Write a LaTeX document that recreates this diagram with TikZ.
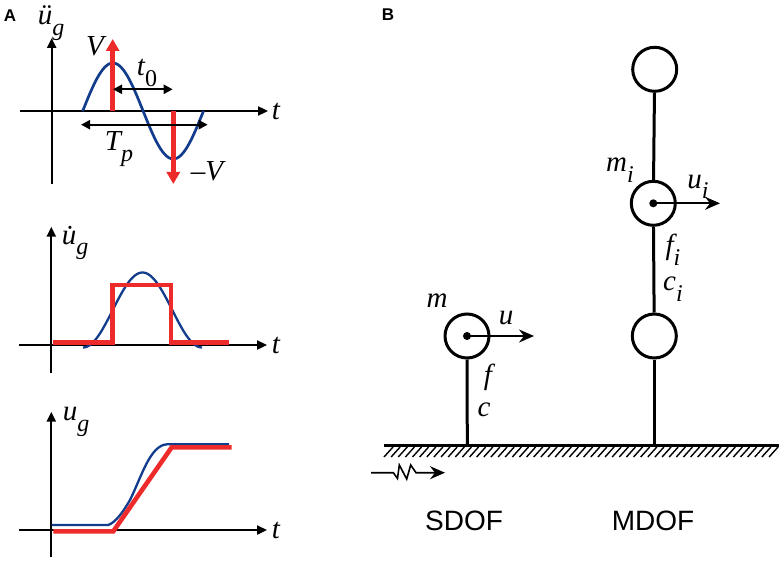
\documentclass[tikz,border=0pt]{standalone}
\usepackage{fontspec}
\setmainfont{Liberation Serif}
\setsansfont{Liberation Sans}
\usetikzlibrary{arrows.meta}
\definecolor{sineblue}{HTML}{123C8C}
\definecolor{pulsered}{HTML}{EE2B2B}
\newcommand{\lowidx}[1]{\raisebox{-0.36em}{\fontsize{24}{26}\selectfont #1}}
\tikzset{
	axis/.style={line width=2.3pt, -{Triangle[length=10pt,width=9pt]}},
	span/.style={line width=2.2pt, {Triangle[length=9pt,width=9pt]}-{Triangle[length=9pt,width=9pt]}},
	pulse/.style={line width=4.6pt, pulsered, line join=miter},
	pulsearrow/.style={line width=4.6pt, pulsered, -{Triangle[length=12pt,width=13pt]}},
	wave/.style={line width=2.3pt, sineblue},
	sym/.style={font=\fontsize{29}{31}\selectfont\itshape, inner sep=0pt},
	panel/.style={font=\fontsize{17}{19}\selectfont\sffamily\bfseries, inner sep=0pt},
	dof/.style={font=\fontsize{28}{30}\selectfont\sffamily, inner sep=0pt},
	mass/.style={circle, draw, line width=3pt, minimum size=44pt, inner sep=0pt},
	rod/.style={line width=3pt},
	pin/.style={circle, fill, minimum size=8pt, inner sep=0pt},
	motion/.style={line width=1.6pt, -{Stealth[length=15pt,width=13pt,inset=5pt]}}
}

\begin{document}
\begin{tikzpicture}[x=1pt,y=-1pt]
	\useasboundingbox (0,0) rectangle (783,561);
	%%%%% PANEL A, ACCELERATION %%%%%
	\node[panel] (labA) at (10,16) {A};
	\draw[axis] (51.7,184) -- (51.7,38);
	\draw[axis] (20,111) -- (268,111);
	\draw[wave, line width=2.7pt] plot[domain=82.7:203.5, samples=60] (\x, {111-48*sin(2.98*(\x-82.7))});
	\draw[pulsearrow] (112.7,111) -- (112.7,39);
	\draw[pulsearrow] (173.3,111) -- (173.3,184);
	\draw[span] (113,89.3) -- (172.7,89.3);
	\draw[span] (81,124.7) -- (207.7,124.7);
	\node[sym] (accel) at (51,23) {ü\lowidx{g}};
	\node[sym] (peak) at (95,46) {V};
	\node[sym] (peakneg) at (207,171) {--V};
	\node[sym] (shift) at (147,73) {t\lowidx{\upshape 0}};
	\node[sym] (period) at (119,149) {T\lowidx{p}};
	\node[sym] (tA) at (276,111) {t};

	%%%%% PANEL A, VELOCITY %%%%%
	\draw[axis] (51.3,372.7) -- (51.3,226.7);
	\draw[axis] (19,345) -- (267,345);
	\draw[wave] plot[domain=83:202, samples=60] (\x, {347.5-75*(1-cos(3.025*(\x-83)))/2});
	\draw[pulse] (53.3,342.7) -- (112.3,342.7) -- (112.3,285) -- (171,285) -- (171,342.7) -- (229.3,342.7);
	\node[sym] (veloc) at (75,243) {\.{u}\lowidx{g}};
	\node[sym] (tB) at (276,345) {t};

	%%%%% PANEL A, DISPLACEMENT %%%%%
	\draw[axis] (51.3,557) -- (51.3,411.7);
	\draw[axis] (19,530) -- (267,530);
	\draw[wave] (51.7,525) -- (108.3,525) .. controls (116,522) and (123,512) .. (130,500) .. controls (141,478) and (150,445) .. (167,444.3) -- (229,444.3);
	\draw[pulse] (53.3,531.3) -- (113.3,531.3) -- (171.7,447.3) -- (231.7,447.3);
	\node[sym] (displ) at (76,422) {u\lowidx{g}};
	\node[sym] (tC) at (276,530) {t};

	%%%%% PANEL B %%%%%
	\node[panel] (labB) at (388,15) {B};
	\coordinate (groundL) at (384,445.7);
	\coordinate (groundR) at (779.3,445.7);
	\coordinate (footS) at (467.3,445.7);
	\coordinate (footM) at (654.3,445.7);
	\draw[rod] (groundL) -- (groundR);
	\foreach \hx in {0,...,54}
		\draw[line width=1.4pt] ({384+7.13*\hx},457) -- ({393+7.13*\hx},447);

	\node[mass] (massS) at (467,336) {};
	\node[pin] (pinS) at (467,336) {};
	\draw[rod] (massS) -- (footS);
	\coordinate (endS) at (534,336);
	\draw[motion] (pinS.center) -- (endS);
	\node[sym] (mS) at (437,301) {m};
	\node[sym] (uS) at (506,318) {u};
	\node[sym] (fS) at (488,377) {f};
	\node[sym] (cS) at (484,410) {c};

	\node[mass] (massT) at (654.7,69.3) {};
	\node[mass] (massI) at (653.3,203.3) {};
	\node[mass] (massL) at (654.3,336) {};
	\node[pin] (pinI) at (653.3,203.3) {};
	\draw[rod] (massT) -- (massI);
	\draw[rod] (massI) -- (massL);
	\draw[rod] (massL) -- (footM);
	\coordinate (endI) at (720,203.3);
	\draw[motion] (pinI.center) -- (endI);
	\node[sym] (mI) at (620,170) {m\lowidx{i}};
	\node[sym] (uI) at (698,187) {u\lowidx{i}};
	\node[sym] (fI) at (673,250) {f\lowidx{i}};
	\node[sym] (cI) at (673,289) {c\lowidx{i}};

	\coordinate (shakeA) at (371,472.7);
	\coordinate (shakeB) at (445,472.7);
	\draw[motion] (shakeA) -- (393.3,472.7) -- (397.5,478.5) -- (399.3,465) -- (406.7,479) -- (410.7,465) -- (416,472.7) -- (shakeB);

	\node[dof] (sdof) at (464,520.7) {SDOF};
	\node[dof] (mdof) at (653,520.7) {MDOF};
\end{tikzpicture}
\end{document}
